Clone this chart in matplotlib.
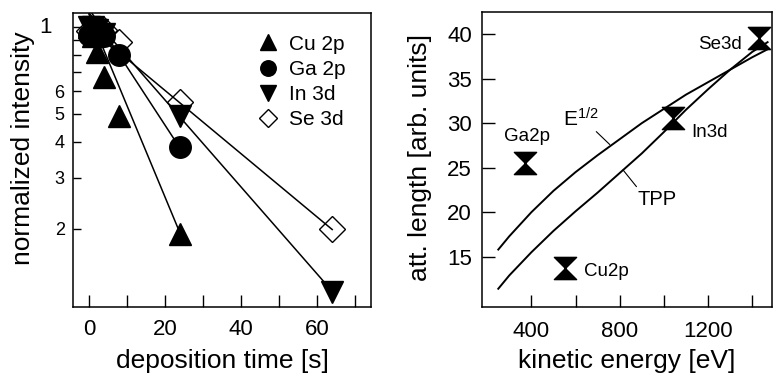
import numpy as np
import matplotlib
matplotlib.use("Agg")
import matplotlib.pyplot as plt
from matplotlib.path import Path
from matplotlib.ticker import FixedLocator, NullLocator, FixedFormatter
import matplotlib.transforms as mtransforms

plt.rcParams['font.family'] = ['Liberation Sans', 'DejaVu Sans']
plt.rcParams['mathtext.fontset'] = 'custom'
plt.rcParams['mathtext.rm'] = 'Liberation Sans'
plt.rcParams['mathtext.it'] = 'Liberation Sans'

# --- core-level intensities vs. deposition time (normalized) ---
t_cu = [0, 1, 2, 4, 8, 24]
i_cu = [1.0, 0.93, 0.82, 0.67, 0.49, 0.192]
t_ga = [0, 2, 4, 8, 24]
i_ga = [0.94, 0.97, 0.93, 0.80, 0.385]
t_in = [0, 1, 2, 4, 24, 64]
i_in = [1.0, 1.0, 0.98, 0.95, 0.49, 0.121]
t_se = [0, 2, 4, 8, 24, 64]
i_se = [0.97, 0.95, 0.98, 0.89, 0.55, 0.20]

# exponential fits I0*exp(-t/tau)
fit_amp = [1.11, 1.16, 1.12, 1.00]
fit_tau = [13.7, 21.5, 28.8, 39.6]
fit_tend = [24, 24, 64, 64]

# --- attenuation length vs. kinetic energy ---
e_curve = [250, 300, 400, 500, 600, 700, 800, 900, 1000, 1100, 1200, 1300, 1400, 1470]
lam_sqrt = [15.8, 17.3, 20.0, 22.4, 24.5, 26.4, 28.2, 30.0, 31.6, 33.2, 34.6, 36.0, 37.4, 38.3]
lam_tpp = [11.4, 12.9, 15.5, 17.9, 20.1, 22.2, 24.4, 26.6, 29.0, 31.5, 33.8, 36.0, 38.0, 39.1]

core_levels = ['Cu2p', 'Ga2p', 'In3d', 'Se3d']
e_kin = [554, 369, 1042, 1432]
lam_meas = [13.7, 25.5, 30.6, 39.55]

fig = plt.figure(figsize=(7.73, 3.79), dpi=100)
ax1 = fig.add_axes([0.0944, 0.19, 0.3855, 0.7757])
ax2 = fig.add_axes([0.6232, 0.19, 0.3755, 0.7786])

# ---------- left panel ----------
tt = [np.linspace(0, te, 100) for te in fit_tend]
for a, tau, t in zip(fit_amp, fit_tau, tt):
    ax1.plot(t, a * np.exp(-t / tau), color='black', lw=1.1, zorder=2)

ms = 15.5
ax1.plot(t_se, i_se, ls='none', marker='D', ms=13, mfc='none', mec='black',
         mew=1.0, zorder=3, label='Se 3d')
ax1.plot(t_in, i_in, ls='none', marker='v', ms=ms, color='black', zorder=4, label='In 3d')
ax1.plot(t_ga, i_ga, ls='none', marker='o', ms=ms, color='black', zorder=5, label='Ga 2p')
ax1.plot(t_cu, i_cu, ls='none', marker='^', ms=ms, color='black', zorder=6, label='Cu 2p')

ax1.set_yscale('log')
ax1.set_xlim(-4.2, 74.2)
ax1.set_ylim(0.107, 1.12)
ax1.xaxis.set_major_locator(FixedLocator([0, 20, 40, 60]))
ax1.xaxis.set_minor_locator(FixedLocator([10, 30, 50, 70]))
yt = [0.2, 0.3, 0.4, 0.5, 0.6, 0.7, 0.8, 0.9, 1.0]
ax1.yaxis.set_major_locator(FixedLocator(yt))
ax1.yaxis.set_major_formatter(FixedFormatter(['2', '3', '4', '5', '6', '', '', '', '']))
ax1.yaxis.set_minor_locator(NullLocator())
ax1.tick_params(axis='x', which='both', direction='in', length=8.5, width=1.0,
                labelsize=16, pad=8.6)
ax1.tick_params(axis='y', which='both', direction='in', length=6, width=1.0,
                labelsize=13, pad=6)
ax1.text(-0.07, 1.0, '1', fontsize=16, ha='right', va='center',
         transform=mtransforms.blended_transform_factory(ax1.transAxes, ax1.transData))
ax1.set_xlabel('deposition time [s]', fontsize=19)
ax1.set_ylabel('normalized intensity', fontsize=19)
ax1.xaxis.set_label_coords(0.5, -0.143)
ax1.yaxis.set_label_coords(-0.128, 0.54)

handles, labels = ax1.get_legend_handles_labels()
order = [3, 2, 1, 0]
ax1.legend([handles[k] for k in order], [labels[k] for k in order],
           loc='upper left', bbox_to_anchor=(0.6, 0.955), frameon=False,
           fontsize=15, markerscale=0.72, handlelength=0.8, handletextpad=0.6,
           labelspacing=0.3, borderaxespad=0)

# ---------- right panel ----------
ax2.plot(e_curve, lam_sqrt, color='black', lw=1.4, zorder=2)
ax2.plot(e_curve, lam_tpp, color='black', lw=1.4, zorder=2)

hourglass = Path([(-1, 1), (1, 1), (-1, -1), (1, -1), (-1, 1)],
                 [Path.MOVETO, Path.LINETO, Path.LINETO, Path.LINETO, Path.CLOSEPOLY])
ax2.plot(e_kin, lam_meas, ls='none', marker=hourglass, ms=16, color='black', zorder=3)

label_pos = {'Cu2p': (637, 13.3, 'left'), 'Ga2p': (379, 28.45, 'center'),
             'In3d': (1126, 29.0, 'left'), 'Se3d': (1353, 38.8, 'right')}
for name in core_levels:
    x, y, ha = label_pos[name]
    ax2.text(x, y, name, fontsize=13.5, ha=ha, va='center')

ax2.text(542, 30.5, r'$\mathregular{E^{1/2}}$', fontsize=15, ha='left', va='center')
ax2.text(882, 21.4, 'TPP', fontsize=14.5, ha='left', va='center')
ax2.annotate('', xy=(755, 27.6), xytext=(694, 29.05),
             arrowprops=dict(arrowstyle='-', lw=0.8, color='black', shrinkA=0, shrinkB=0))
ax2.annotate('', xy=(815, 24.75), xytext=(876, 22.87),
             arrowprops=dict(arrowstyle='-', lw=0.8, color='black', shrinkA=0, shrinkB=0))

ax2.set_xlim(175, 1490)
ax2.set_ylim(9.35, 42.5)
ax2.xaxis.set_major_locator(FixedLocator([400, 800, 1200]))
ax2.xaxis.set_minor_locator(FixedLocator([600, 1000, 1400]))
ax2.yaxis.set_major_locator(FixedLocator([15, 20, 25, 30, 35, 40]))
ax2.yaxis.set_minor_locator(NullLocator())
ax2.tick_params(axis='x', which='both', direction='in', length=8.5, width=1.0,
                labelsize=16, pad=10)
ax2.tick_params(axis='y', which='both', direction='in', length=9, width=1.0,
                labelsize=16, pad=7)
ax2.set_xlabel('kinetic energy [eV]', fontsize=19)
ax2.set_ylabel('att. length [arb. units]', fontsize=19)
ax2.xaxis.set_label_coords(0.5, -0.142)
ax2.yaxis.set_label_coords(-0.172, 0.507)

for ax in (ax1, ax2):
    for sp in ax.spines.values():
        sp.set_linewidth(1.1)

fig.savefig('out.png', dpi=100)
